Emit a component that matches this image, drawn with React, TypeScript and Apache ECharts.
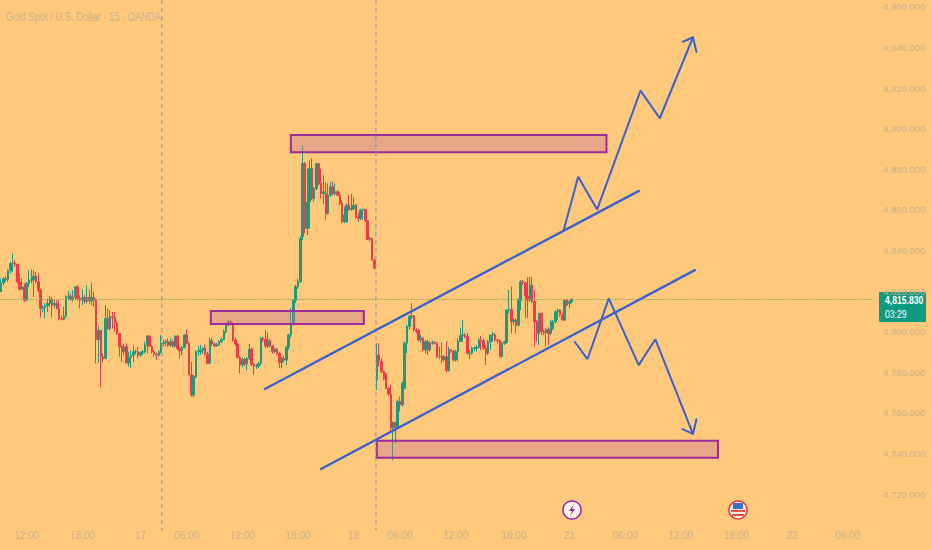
import React, { useEffect, useRef } from "react";
import * as echarts from "echarts";

// Candles: [open, close, low, high]
const barsDay16: number[][] = [
  [4819.6,4824,4819.6,4826.1],[4824,4826.1,4822.9,4826.6],[4826.1,4825.6,4824.5,4827.3],[4825.6,4829.9,4824.5,4830.6],
  [4829.9,4833.5,4828.6,4834.3],[4833.5,4833.8,4829.4,4838.4],[4833.8,4833.2,4831.9,4835.2],[4833.2,4824.5,4823.7,4833.5],
  [4824.5,4820.9,4820.4,4828.6],[4820.9,4822,4820.4,4826.1],[4822,4815.5,4814.7,4823.7],[4815.5,4823.7,4815.2,4824.5],
  [4823.7,4825.3,4822,4830.2],[4825.3,4825.6,4823.7,4830.6],[4825.6,4827.3,4817.1,4830.2],[4827.3,4824.5,4824,4829.4],
  [4824.5,4820.4,4819.6,4828.6],[4820.4,4811.4,4807,4821.2],[4811.4,4811.9,4809.7,4813],[4811.9,4812.7,4806.5,4813.8],
  [4812.7,4813.8,4809.7,4816.3],[4813.8,4815.8,4812.2,4817.4],[4815.8,4813,4807,4817.1],[4813,4813.8,4811.4,4815.5],
  [4813.8,4811.4,4810.9,4815.5],[4811.4,4806.5,4805.6,4815.5],[4806.5,4806.1,4805.6,4808.1],[4806.1,4807.6,4805.6,4812.2],
  [4807.6,4817.1,4807,4817.9],[4817.1,4817.4,4815.5,4820.1],[4817.4,4815.8,4815.2,4818.8],[4815.8,4817.1,4814.7,4820.4],
  [4817.1,4822,4815.5,4822.4],[4822,4816.3,4815.2,4822.9],[4816.3,4815.5,4811.4,4817.9],[4815.5,4816.8,4813,4820.7],
  [4816.8,4815,4813.8,4817.9],[4815,4816.8,4813.8,4822.9],[4816.8,4815.2,4813.8,4820.7],[4815.2,4816.8,4813,4824],
  [4816.8,4815.5,4812.2,4819.6],[4815.5,4796.1,4784.3,4816.3],[4796.1,4800.7,4784.6,4802.7],[4800.7,4787.6,4772.5,4800.7],
  [4787.6,4786.8,4785.1,4789.2],[4786.8,4806.5,4786.3,4813],[4806.5,4801.5,4800.7,4811.4],[4801.5,4807.3,4800.7,4810.6],
  [4807.3,4807,4801.5,4809.7],[4807,4804.3,4799.9,4809.7],[4804.3,4799.1,4798.3,4804.8],[4799.1,4792.5,4787.6,4799.4],
  [4792.5,4790.1,4785.1,4793.3],[4790.1,4792.5,4788.4,4794.2],[4792.5,4784.6,4784.3,4794.2],[4784.6,4787.3,4782.7,4790.1],
  [4787.3,4788.4,4781.9,4790.9],[4788.4,4790.1,4785.1,4793.3],[4790.1,4790.1,4788.9,4791.2],[4790.1,4788.4,4786.8,4792.5],
];
const barsDay17: number[][] = [
  [4788.4,4789.6,4787.6,4790.1],[4789.6,4790.1,4788.4,4790.9],[4790.1,4793.3,4789.2,4795],[4793.3,4797.8,4789.2,4798.3],
  [4797.8,4792.8,4792.5,4798.3],[4792.8,4790.1,4789.2,4793.3],[4790.1,4788.9,4787.6,4790.9],[4788.9,4788.4,4786,4789.6],
  [4788.4,4790.1,4787.6,4790.9],[4790.1,4794.2,4789.2,4798.3],[4794.2,4794.5,4792.8,4795.8],[4794.5,4795,4792.8,4796.1],
  [4795,4793.3,4792.5,4796.6],[4793.3,4795,4792.5,4796.6],[4795,4792.8,4792.2,4796.1],[4792.8,4797.8,4792.2,4798.3],
  [4797.8,4791.7,4790.9,4798.3],[4791.7,4790.6,4786.8,4792.2],[4790.6,4792.2,4788.4,4792.8],[4792.2,4798.3,4791.7,4798.8],
  [4798.3,4794.2,4793.8,4801],[4794.2,4778.6,4778.6,4795],[4778.6,4768.7,4767.9,4785.1],[4768.7,4777.8,4767.6,4778.6],
  [4777.8,4790.1,4776.9,4790.9],[4790.1,4790.1,4788,4793],
  [4790.1,4790.9,4788.5,4793.5],[4790.9,4791.8,4789,4792.5],[4791.8,4789,4788.3,4793.5],[4789,4784.4,4784,4790],
  [4784.4,4795.5,4784,4797],[4795.5,4793.9,4793,4797],[4793.9,4792.9,4792.5,4794.5],[4792.9,4793.4,4792.5,4794.5],
  [4793.4,4795,4793,4795.8],[4795,4796.2,4794.5,4797],[4796.2,4800,4795.8,4801],[4800,4803.2,4799,4804],
  [4803.2,4804.9,4802.5,4805.5],[4804.9,4804,4803,4805.5],[4804,4795.9,4795,4804.5],[4795.9,4793.9,4793,4797],
  [4793.9,4787.3,4786.5,4794.5],[4787.3,4783.6,4779.5,4788],[4783.6,4786.3,4782.5,4787.5],[4786.3,4784,4783,4787],
  [4784,4786.8,4781,4787.5],[4786.8,4791.3,4786,4794],[4791.3,4784,4783,4792],[4784,4783,4778.8,4784.5],
  [4783,4783,4781.5,4784],[4783,4784.4,4782,4785],[4784.4,4796.7,4783.5,4797.5],[4796.7,4796.2,4795,4797.5],
  [4796.2,4792.9,4792,4800.8],[4792.9,4795.5,4792,4799.5],[4795.5,4792.9,4792,4796.5],[4792.9,4790.1,4789,4793.5],
  [4790.1,4791.3,4789.5,4792],[4791.3,4789.3,4788.5,4792],[4789.3,4784.7,4782,4790],[4784.7,4786.8,4782,4787.5],
  [4786.8,4786,4785,4788],[4786,4792.3,4783.5,4793],[4792.3,4798.3,4791,4799],[4798.3,4804,4797,4811.4],
  [4804,4815.5,4803,4816],[4815.5,4822.1,4814,4823],[4822.1,4824.6,4821,4826],[4824.6,4846,4824,4847],
];
const barsDay18: number[][] = [
  [4846.7,4882.8,4845,4891.3],[4882.8,4850.8,4848.4,4883.6],[4850.8,4863.9,4847.5,4880.3],[4863.9,4880.3,4850.8,4884.4],
  [4880.3,4865.6,4864.8,4885.3],[4865.6,4870.5,4864,4871.3],[4870.5,4882.8,4869.7,4883.1],[4882.8,4873,4872.1,4882.8],
  [4873,4868,4865.6,4880.3],[4868,4868.9,4862.8,4877],[4868,4858.2,4855.2,4873.8],[4858.2,4867.2,4857.4,4873],
  [4867.2,4871.3,4866.4,4873.8],[4871.3,4868,4867.2,4873.8],[4868,4868.9,4867.2,4873],[4868.9,4867.2,4866.7,4869.7],
  [4867.2,4863.1,4862.3,4868.9],[4863.1,4854.1,4853.3,4864.8],[4854.1,4857.4,4853.3,4861.5],[4854.1,4862.3,4853.6,4863.1],
  [4862.3,4860.2,4859.5,4867.2],[4860.2,4860.7,4859.5,4868],[4860.7,4862.3,4859.8,4866.4],[4862.3,4856.2,4855.7,4862.8],
  [4856.2,4855.7,4854.1,4858.2],[4855.7,4859.8,4854.9,4860.5],[4859.8,4860.2,4854.9,4860.7],[4860.2,4854.6,4854.1,4860.5],
  [4854.6,4845.4,4845.1,4854.9],[4845.4,4845.9,4844.3,4846.7],[4845.9,4835.2,4834.9,4846.4],[4835.2,4831.1,4830.7,4836],
];
const barsDay21: number[][] = [
  [4776.2,4788.5,4771.3,4794.3],[4788.5,4785.3,4782.8,4794.3],[4785.3,4780.3,4779.5,4786.9],[4780.3,4776.6,4775.9,4780.8],
  [4779.2,4772.1,4771.6,4779.5],[4772.1,4769.2,4768.4,4772.6],[4769.2,4752.5,4750.8,4773.8],[4752.5,4755.2,4736.6,4755.7],
  [4755.2,4752.5,4745.1,4755.7],[4752.5,4765.6,4752,4766.4],[4765.6,4764,4760.7,4768],[4764,4774.6,4763.1,4775.4],
  [4772.1,4794.3,4771.6,4795.1],[4794.3,4802.5,4789.4,4803.3],[4802.5,4807.4,4800.8,4808.2],[4807.4,4807.7,4806.1,4814],
  [4807.7,4800.8,4800,4808.2],[4800.8,4800,4799.2,4801.7],[4800.5,4795.9,4795.1,4801.2],[4795.9,4796.7,4794.3,4798.4],
  [4796.7,4791,4790.2,4797.2],[4791,4795.1,4789.4,4795.9],[4795.1,4791,4788.5,4795.9],[4791,4794.3,4790.2,4795.1],
  [4794.3,4794.8,4793.5,4795.6],[4794.8,4794.3,4793.5,4795.1],[4794.3,4787.7,4786.9,4794.6],[4787.7,4787.7,4786.4,4792.6],
  [4787.7,4786.1,4784.4,4794.3],[4786.1,4787.7,4785.3,4788.5],[4787.7,4780.8,4779.8,4795.1],[4780.8,4791,4780.3,4792.6],
  [4791,4790.2,4789.4,4791.3],[4790.2,4786.1,4785.3,4791],[4786.1,4790.2,4785.3,4791],[4790.2,4795.1,4785.3,4796.7],
  [4795.1,4797.9,4795.1,4801.7],[4797.9,4798.4,4795.1,4805.8],[4798.4,4797.6,4796.7,4799.2],[4797.6,4789.4,4788.5,4799.2],
  [4789.4,4789.4,4786.4,4791],[4789.4,4791.8,4788.5,4792.6],[4791.8,4792.1,4790.2,4792.6],[4791.8,4792.3,4790.1,4793.4],
  [4792.3,4795.9,4791.8,4796.7],[4795.9,4795.5,4790.9,4797.8],[4795.5,4791.8,4790.9,4796.7],[4791.8,4789.3,4783.6,4793.4],
  [4789.3,4795,4788.5,4795.9],[4795,4798.3,4790.9,4798.3],[4798.3,4798.8,4795,4800],[4798.3,4795.9,4795,4799.1],
  [4795.9,4795.5,4794.2,4796.2],[4795.5,4787.7,4787.3,4795.9],[4787.7,4794.2,4787.3,4795],[4794.2,4795,4793.4,4795.5],
  [4794.5,4810.6,4794.2,4811],[4810.6,4811,4809,4820.5],[4811,4804.9,4799.1,4822.1],[4804.9,4805.7,4803.2,4806.5],
  [4805.7,4803.2,4799.1,4806.5],[4803.2,4815.5,4802.4,4816.4],[4815.5,4824.6,4810.6,4825.4],[4824.6,4824.1,4822.9,4825.4],
  [4824.1,4817.5,4806.5,4824.6],[4817.5,4815.5,4806.5,4826.7],[4815.5,4822.9,4814.7,4827],[4822.9,4814.7,4813.9,4827],
  [4814.7,4804.9,4792.6,4820.5],[4804.9,4799.1,4795,4805.7],[4799.1,4809,4793.4,4809.3],[4809,4800,4798.3,4809.3],
  [4800,4799.5,4798.3,4800.8],[4799.5,4801.1,4792.9,4801.6],[4801.1,4799.1,4793.4,4802.1],[4799.1,4804.9,4798.3,4805.7],
  [4801.6,4804.9,4800.8,4805.7],[4804.9,4809.8,4804,4810.6],[4809.8,4810.6,4805.7,4811.4],[4810.6,4808.2,4807.3,4811],
  [4808.2,4805.7,4805.4,4809],[4805.7,4815.5,4805.4,4815.9],[4815.5,4813.1,4812.6,4815.9],[4813.9,4814.7,4811.4,4815.5],
  [4814.7,4815.83,4813.9,4816.4],
];

const tickBars = [11, 35, 60, 80, 104, 128, 152, 172, 196, 221, 245, 269, 293, 317, 341, 365];
const tickLabels = ["12:00","18:00","17","06:00","12:00","18:00","18","06:00","12:00","18:00","21","06:00","12:00","18:00","22","06:00"];
const slotCount = 376;

const lastPrice = 4815.83;
const lastPriceText = "4,815.830";
const countdownText = "03:29";
const titleText = "Gold Spot / U.S. Dollar · 15 · OANDA";

// Drawings, in [bar position, price]
const upperChannel = [[113.7,4771.7],[275,4869.3]];
const lowerChannel = [[137.9,4732.3],[299.1,4830.3]];
const bullPath = [[242.6,4850],[248.8,4876.3],[257,4860.2],[275.7,4918.7],[284,4905.1],[298.3,4945]];
const bullHead = [[294,4942.8],[298.3,4945],[299.8,4937.9]];
const bearPath = [[247.3,4795],[252.8,4786.4],[262,4816.4],[274.9,4783.5],[282.1,4796.2],[298.3,4749.6]];
const bearHead = [[293.8,4752],[298.3,4749.6],[299.8,4756.8]];
const sessionA = [[69.3,4963.3],[69.3,4702.3]];
const sessionB = [[161.6,4963.3],[161.6,4702.3]];
const priceLine = [[-0.5,lastPrice],[378.4,lastPrice]];
// Zones: [bar from, bar to, price top, price bottom]
const zones = [
  [124.9,261,4896.8,4888.4],
  [90.4,156.4,4810.1,4803.7],
  [162,309.1,4746.2,4737.8],
];

const BG = "#FFC97C";
const UP = "#1C9A7F";
const DOWN = "#EE3B45";
const BLUE = "#3B62CE";
const PURPLE = "#A02A9E";
const FAINT = "#CBB08D";
const FONT = "'Liberation Sans', sans-serif";

export default function App() {
  const ref = useRef<HTMLDivElement>(null);
  useEffect(() => {
    const chart = echarts.init(ref.current!, undefined, { renderer: "svg" });
    const candles = [...barsDay16, ...barsDay17, ...barsDay18, ...barsDay21];
    const categories = Array.from({ length: slotCount }, (_, i) => {
      const k = tickBars.indexOf(i);
      return k >= 0 ? tickLabels[k] : "";
    });
    const line = (data: number[][], color: string, width: number, type: any = "solid") => ({
      type: "line", xAxisIndex: 1, yAxisIndex: 0, data, symbol: "none", silent: true, clip: false,
      lineStyle: { color, width, type, cap: "round" }, z: 5,
    });
    chart.setOption({
      animation: false,
      backgroundColor: BG,
      textStyle: { fontFamily: FONT },
      grid: { left: 0, right: 60, top: 6.8, height: 487.2, containLabel: false, outerBoundsMode: "none" },
      xAxis: [
        {
          type: "category", data: categories, boundaryGap: true,
          axisLine: { show: false }, axisTick: { show: false }, splitLine: { show: false },
          axisLabel: {
            color: FAINT, fontSize: 10, fontFamily: FONT, margin: 36,
            interval: (i: number) => tickBars.includes(i),
          },
        },
        { type: "value", show: false, min: -0.5, max: 375.5, splitLine: { show: false } },
      ],
      yAxis: {
        type: "value", position: "right", min: 4720, max: 4960, interval: 20, scale: true,
        axisLine: { show: false }, axisTick: { show: false }, splitLine: { show: false },
        axisLabel: {
          color: FAINT, fontSize: 9.5, fontFamily: FONT, margin: 11,
          formatter: (v: number) => v.toLocaleString("en-US", { minimumFractionDigits: 3, maximumFractionDigits: 3 }),
        },
      },
      series: [
        line(sessionA, "#7F8FB0", 1, [4, 4]),
        line(sessionB, "#7F8FB0", 1, [4, 4]),
        line(priceLine, "#8FA65C", 1, [1, 2]),
        {
          type: "candlestick", xAxisIndex: 0, yAxisIndex: 0, data: candles, barWidth: 2, silent: true, z: 3,
          itemStyle: { color: UP, color0: DOWN, borderColor: UP, borderColor0: DOWN, borderWidth: 1 },
        },
        {
          type: "custom", xAxisIndex: 1, yAxisIndex: 0, data: zones, silent: true, z: 4,
          encode: { x: [0, 1], y: [2, 3] },
          renderItem: (_p: any, api: any) => {
            const a = api.coord([api.value(0), api.value(2)]);
            const b = api.coord([api.value(1), api.value(3)]);
            return {
              type: "rect",
              shape: { x: a[0], y: a[1], width: b[0] - a[0], height: b[1] - a[1] },
              style: { fill: "rgba(200,120,150,0.42)", stroke: PURPLE, lineWidth: 2 },
            };
          },
        },
        line(upperChannel, BLUE, 2.4),
        line(lowerChannel, BLUE, 2.4),
        line(bullPath, BLUE, 2),
        line(bullHead, BLUE, 2),
        line(bearPath, BLUE, 2),
        line(bearHead, BLUE, 2),
      ],
      graphic: [
        { type: "text", x: 6, y: 10, scaleX: 0.75, silent: true, style: { text: titleText, fill: FAINT, font: `12.5px ${FONT}` } },
        { type: "rect", silent: true, shape: { x: 879, y: 292, width: 47, height: 30, r: 1 }, style: { fill: "#0E9B82" } },
        { type: "text", x: 885, y: 294, scaleX: 0.75, silent: true, style: { text: lastPriceText, fill: "#FFFFFF", font: `bold 11.5px ${FONT}` } },
        { type: "text", x: 885, y: 308, scaleX: 0.75, silent: true, style: { text: countdownText, fill: "#FFFFFF", font: `11.5px ${FONT}` } },
        { type: "circle", silent: true, shape: { cx: 572, cy: 510, r: 9 }, style: { fill: "#FFF6EA", stroke: "#8E24AA", lineWidth: 1.5 } },
        { type: "polygon", silent: true, shape: { points: [[574,504],[569,511],[572,511],[570,516],[575,509],[572,509]] }, style: { fill: "#8E24AA" } },
        { type: "circle", silent: true, shape: { cx: 738, cy: 510, r: 9 }, style: { fill: "#FFF1E6", stroke: "#E53935", lineWidth: 1.5 } },
        { type: "rect", silent: true, shape: { x: 733, y: 503, width: 10, height: 6 }, style: { fill: "#3F6FC4" } },
        { type: "rect", silent: true, shape: { x: 731, y: 510, width: 14, height: 1.8 }, style: { fill: "#E53935" } },
        { type: "rect", silent: true, shape: { x: 732, y: 514, width: 12, height: 1.8 }, style: { fill: "#E53935" } },
      ],
    });
    return () => chart.dispose();
  }, []);
  return <div ref={ref} style={{ position: "absolute", left: 0, top: 0, width: 932, height: 550, background: BG }} />;
}
